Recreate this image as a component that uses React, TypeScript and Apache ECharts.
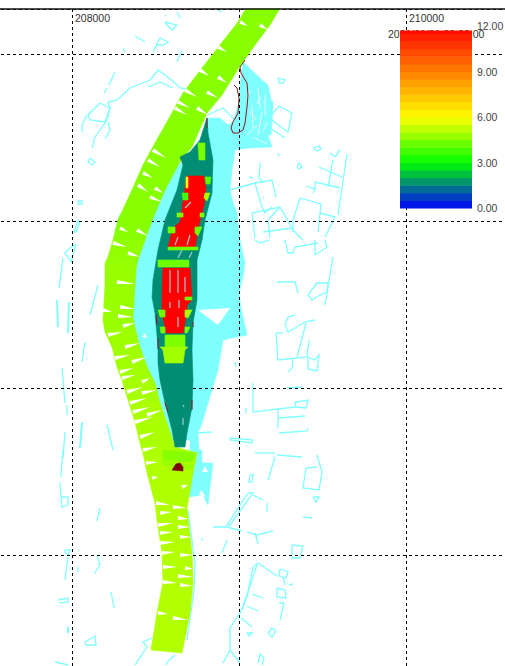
import React, { useEffect, useRef } from "react";
import * as echarts from "echarts";

// Map grid: 167 grid cells per 1000 m. Axis coordinates are in grid cells from the SW corner.
const gridStep = 167;
const eastingLabels: Record<number, string> = { 167: "208000", 501: "210000" };
const timeStamp = "2001/01/01 00:00:00";

// Depth colour scale stops [value, r, g, b]
const colorStops = [
  [0, 0, 0, 255],
  [1.5, 0, 128, 128],
  [3, 0, 255, 0],
  [6, 255, 255, 0],
  [12, 255, 0, 0],
];
const legendBands = [0, 0.5, 1, 1.5, 2, 2.5, 3, 3.5, 4, 4.5, 5, 5.5, 6, 6.5, 7, 7.5, 8, 8.5, 9, 9.5, 10, 10.5, 11, 11.5];
const legendTop = 11.7;

// River mesh cross sections: left x,y then right x,y
const riverSections = [
  [343, 717, 377, 717], [333, 700, 365, 697], [315, 677, 350, 677], [297, 654, 335, 656],
  [278, 629, 317, 627], [263, 602, 302, 609], [250, 579, 287, 575], [238, 557, 276, 562],
  [227, 532, 260, 532], [213, 502, 248, 504], [208, 482, 240, 482], [203, 465, 232, 459],
  [200, 459, 231, 452], [200, 437, 230, 437], [198, 402, 228, 405], [200, 390, 230, 394],
  [207, 375, 235, 375], [212, 355, 242, 355], [217, 342, 250, 339], [223, 322, 255, 319],
  [230, 300, 262, 299], [236, 275, 270, 275], [238, 269, 292, 269], [242, 249, 288, 249],
  [250, 219, 282, 214], [253, 195, 284, 195], [257, 169, 287, 169], [258, 140, 288, 139],
  [252, 109, 285, 109], [246, 72, 277, 69],
];
const riverValues = [
  4.6, 4.6, 4.6, 4.6, 4.6, 4.6, 4.6, 4.6, 4.6, 4.6, 4.7, 4.75, 4.8, 4.8, 4.8, 4.85, 4.9, 4.9, 4.95, 5.0, 5.0, 5.0,
  5.05, 5.05, 5.1, 5.1, 5.1, 5.1, 5.1,
];
// Gaps between mesh cells: start x,y then tip x,y
const riverGaps = [
  [335, 700, 343, 696], [355, 697, 363, 692], [313, 675, 322, 670], [295, 652, 304, 646], [313, 645, 322, 639],
  [280, 632, 292, 625], [302, 630, 313, 624], [273, 620, 285, 614], [270, 614, 282, 607], [292, 614, 303, 607],
  [248, 572, 261, 564], [243, 562, 255, 555], [238, 549, 248, 544], [233, 537, 243, 530], [250, 534, 258, 529],
  [245, 525, 257, 520], [215, 494, 223, 490], [232, 492, 243, 486], [208, 479, 222, 475], [223, 469, 235, 465],
  [212, 440, 230, 438], [215, 415, 230, 413], [198, 412, 207, 410], [213, 406, 228, 405], [218, 396, 230, 399],
  [203, 387, 218, 390], [220, 375, 235, 379], [210, 364, 225, 367], [227, 360, 242, 365], [215, 350, 228, 354],
  [217, 344, 230, 347], [237, 340, 245, 344], [222, 330, 238, 335], [237, 329, 252, 332], [225, 319, 242, 324],
  [228, 310, 245, 315], [242, 307, 257, 312], [230, 300, 248, 305], [235, 285, 250, 290], [238, 272, 252, 275],
  [241, 259, 253, 260], [247, 244, 253, 245], [277, 235, 283, 237], [251, 219, 265, 217], [255, 209, 267, 210],
  [268, 215, 282, 214], [253, 197, 268, 199], [273, 204, 284, 203], [255, 189, 268, 190], [273, 195, 285, 195],
  [255, 179, 270, 180], [275, 185, 286, 185], [257, 169, 270, 170], [275, 167, 288, 167], [258, 155, 272, 155],
  [280, 154, 288, 153], [273, 146, 288, 145], [258, 140, 272, 139], [275, 137, 288, 136], [253, 109, 263, 108],
  [268, 104, 283, 102],
];

// Island (shallow) outline and its deep cells
const islandValue = 1.65;
const islandOutline = [
  302, 604, 303, 589, 308, 562, 307, 529, 300, 502, 297, 482, 292, 462, 292, 422, 288, 399, 287, 372, 288, 342,
  287, 315, 282, 289, 280, 275, 270, 275, 267, 292, 260, 319, 255, 342, 253, 359, 253, 375, 250, 409, 247, 425,
  248, 442, 253, 472, 260, 502, 272, 532, 278, 557, 275, 565, 285, 570, 295, 582,
];
const redBlocks = [
  [282, 546, 299, 546, 301, 532, 299, 517, 294, 497, 290, 475, 263, 475, 268, 494, 275, 500, 279, 527],
  [258, 454, 285, 454, 287, 422, 282, 417, 282, 410, 278, 389, 261, 389, 257, 410, 257, 422],
];
const patchValues = [4.4, 4, 3.8, 5, 4.5, 4.5, 4.3, 4.3, 4.3, 4.3, 4.3, 5, 4.3, 4.5, 4.9, 4.9, 4.5, 4.3, 6, 4.6, 4.8];
const patchCells = [
  [293, 579, 300, 579, 300, 562, 294, 562], [300, 545, 306, 545, 305, 538, 301, 538],
  [277, 529, 283, 529, 283, 522, 278, 522], [300, 529, 305, 529, 302, 521, 299, 524],
  [272, 509, 278, 509, 278, 505, 272, 505], [295, 509, 299, 509, 299, 505, 295, 505],
  [263, 495, 270, 495, 270, 489, 263, 489], [290, 495, 297, 495, 293, 486, 290, 489],
  [263, 475, 293, 475, 293, 472, 263, 472], [253, 462, 284, 462, 284, 455, 253, 455],
  [253, 412, 260, 412, 260, 405, 255, 405], [280, 412, 287, 412, 283, 404, 280, 405],
  [280, 425, 287, 425, 287, 422, 280, 422], [260, 387, 280, 387, 280, 375, 260, 375],
  [255, 375, 283, 375, 280, 372, 258, 372], [258, 372, 280, 372, 278, 359, 260, 359],
  [280, 395, 285, 395, 282, 389, 280, 389], [255, 395, 260, 395, 260, 389, 256, 389],
  [281, 545, 283, 545, 283, 534, 281, 534], [258, 272, 290, 269, 288, 260, 258, 262],
  [257, 262, 288, 257, 287, 252, 258, 257],
];
const meshGaps = [
  [286, 520, 280, 514], [273, 485, 270, 477], [285, 487, 282, 477], [277, 472, 273, 464], [287, 470, 284, 464],
  [265, 452, 265, 429], [273, 452, 273, 429], [280, 445, 280, 430], [265, 420, 265, 414], [274, 422, 274, 414],
  [273, 405, 273, 395], [278, 304, 278, 297], [278, 317, 279, 315],
];
const darkCurve = [340, 662, 335, 655, 336, 649, 342, 639, 343, 627, 342, 615, 340, 599, 338, 592, 333, 589, 328, 589, 326, 594, 328, 600, 333, 609, 334, 624, 332, 634, 329, 637];
const darkMarks = [[253, 384, 253, 373], [302, 604, 302, 594], [288, 400, 288, 395], [251, 407, 252, 397], [260, 319, 263, 310], [287, 322, 287, 312]];
const darkDome = [267, 252, 271, 258, 275, 259, 278, 255, 278, 251];

// Floodplain areas
const floodAreas = [
  [338, 660, 335, 637, 334, 619, 328, 600, 323, 597, 315, 604, 302, 604, 295, 582, 270, 552, 245, 512, 230, 472,
    220, 437, 220, 402, 230, 372, 243, 342, 255, 312, 265, 282, 285, 282, 293, 289, 297, 299, 313, 352, 318, 382,
    342, 387, 336, 414, 334, 429, 338, 445, 340, 459, 335, 482, 333, 499, 332, 509, 328, 519, 325, 532, 327, 552,
    330, 572, 343, 574, 367, 575, 363, 587, 366, 587, 367, 602, 368, 620, 366, 622, 363, 637, 357, 642],
  [293, 272, 297, 272, 297, 259, 308, 259, 305, 235, 303, 217, 298, 227, 283, 225, 288, 259, 293, 259],
  [285, 289, 293, 289, 295, 259, 285, 259],
];
const floodHoles = [
  [293, 412, 325, 414, 313, 397], [237, 385, 242, 384, 240, 389], [300, 256, 303, 250, 297, 250], [296, 232, 301, 225, 294, 227],
];
const floodHoleLines = [
  [353, 634, 355, 614], [357, 610, 353, 587], [347, 617, 348, 594], [342, 587, 353, 597], [360, 627, 360, 607], [345, 632, 342, 622],
  [345, 610, 351, 602], [362, 600, 358, 590], [348, 585, 362, 578], [356, 625, 352, 618],
];

// Thin bank and building outlines
const shoreWest = [
  [210, 650, 204, 637], [202, 634, 199, 629], [288, 632, 275, 634, 270, 639, 260, 647, 253, 652, 245, 642, 225, 634, 212, 622, 203, 620],
  [243, 635, 255, 640, 268, 634], [203, 620, 205, 614, 202, 602, 190, 585, 187, 574],
  [195, 619, 183, 607, 185, 602, 200, 600, 205, 614, 195, 619], [182, 607, 177, 597, 177, 590], [203, 600, 205, 592, 200, 583],
  [185, 564, 190, 560, 187, 557, 183, 560, 185, 564], [173, 521, 177, 521, 177, 518, 173, 518, 173, 521],
  [173, 502, 169, 490, 171, 490, 175, 500, 173, 502], [230, 686, 240, 680], [218, 674, 220, 670],
  [260, 700, 272, 697, 267, 692, 262, 697, 260, 700], [260, 707, 261, 706], [272, 710, 275, 704], [313, 712, 317, 710],
  [248, 670, 255, 684, 263, 680, 258, 677, 252, 677, 248, 670], [277, 672, 272, 660], [303, 607, 318, 614, 332, 600],
  [283, 212, 290, 159, 289, 132, 282, 82], [215, 507, 210, 490], [293, 289, 307, 290],
  [171, 478, 166, 460, 160, 469, 165, 474, 171, 478], [158, 464, 154, 434], [193, 437, 185, 407], [180, 380, 177, 360],
  [157, 354, 160, 319], [162, 317, 162, 307], [202, 297, 208, 272], [160, 290, 158, 264], [158, 272, 156, 245],
  [155, 239, 157, 214], [157, 225, 163, 225, 163, 217, 157, 215], [195, 214, 192, 201], [160, 172, 165, 172, 163, 167, 160, 169, 160, 172],
  [173, 172, 174, 171], [163, 165, 160, 142], [173, 155, 173, 150], [192, 167, 195, 157, 189, 148], [206, 130, 209, 114],
  [153, 122, 163, 124, 163, 120, 154, 119], [180, 80, 190, 86, 191, 77, 181, 77, 180, 80], [150, 60, 163, 57],
  [247, 84, 238, 80, 242, 75, 230, 57], [270, 67, 262, 60, 261, 57],
];
const shoreWestThick = [[152, 422, 153, 395], [164, 420, 163, 389], [177, 300, 175, 274], [163, 95, 163, 89]];
const shoreEast = [
  [373, 644, 380, 642, 378, 639, 374, 639, 373, 644], [365, 605, 374, 616, 387, 609, 383, 590, 368, 601, 365, 605],
  [365, 594, 380, 584], [373, 569, 374, 566], [355, 559, 354, 544, 358, 540], [392, 555, 394, 559, 397, 555, 394, 553, 392, 555],
  [408, 574, 414, 576, 416, 573, 412, 571, 408, 574], [344, 545, 348, 544], [325, 532, 350, 539, 357, 540, 367, 542, 371, 525],
  [350, 539, 357, 515, 360, 509, 367, 515], [358, 525, 359, 524], [347, 509, 350, 484], [347, 509, 375, 515, 388, 492, 398, 482],
  [375, 515, 363, 502, 365, 484], [395, 524, 416, 518, 413, 490], [395, 524, 388, 502, 388, 490], [415, 509, 430, 505, 420, 485],
  [358, 490, 387, 494], [414, 555, 437, 545], [428, 562, 423, 535], [430, 565, 435, 572], [425, 569, 430, 565], [442, 568, 433, 507],
  [401, 536, 410, 533, 410, 540, 423, 537, 435, 534], [410, 533, 408, 529], [350, 482, 355, 479, 365, 482],
  [380, 482, 383, 469, 388, 469, 390, 475, 413, 479], [410, 467, 422, 475, 420, 482], [410, 482, 410, 467],
  [372, 440, 390, 440, 393, 429], [428, 465, 420, 417], [403, 427, 412, 439, 423, 439, 422, 430, 415, 427, 407, 422, 403, 427],
  [390, 407, 383, 405, 380, 397, 383, 390, 400, 400, 410, 402], [371, 389, 378, 389], [371, 389, 373, 362, 402, 365, 404, 382],
  [401, 399, 392, 365], [388, 364, 387, 354, 383, 350], [402, 365, 410, 362, 414, 367, 412, 351, 403, 353, 403, 364],
  [348, 339, 348, 310, 373, 313, 391, 315, 390, 320, 403, 322, 401, 314, 391, 315], [373, 313, 373, 294], [373, 304, 400, 306],
  [374, 289, 402, 291, 403, 294], [382, 334, 397, 335], [341, 314, 341, 309], [325, 284, 348, 282, 347, 279, 325, 282, 325, 284],
  [330, 360, 331, 355], [350, 269, 370, 269], [370, 265, 363, 242], [372, 267, 397, 265], [345, 247, 348, 247, 347, 240, 344, 240, 345, 247],
  [412, 267, 417, 250, 414, 232, 398, 234, 401, 254, 412, 255], [408, 225, 414, 225, 411, 220, 408, 225], [398, 205, 407, 204],
  [343, 229, 348, 229, 325, 197, 322, 197, 343, 229], [348, 227, 358, 222], [362, 219, 362, 210], [308, 195, 322, 195, 337, 191],
  [342, 190, 352, 187, 368, 191], [350, 189, 353, 178], [296, 184, 298, 181], [322, 182, 317, 169], [387, 177, 398, 176, 395, 164, 387, 164, 387, 177],
  [353, 159, 348, 155, 342, 125, 335, 109, 325, 94, 325, 72, 318, 59], [353, 159, 372, 146], [352, 157, 337, 112], [347, 128, 358, 124],
  [342, 116, 353, 111], [336, 104, 347, 95], [375, 153, 383, 150, 381, 144, 374, 146, 375, 153], [378, 144, 380, 137], [384, 137, 388, 138],
  [372, 134, 380, 132, 381, 124, 372, 125, 372, 134], [374, 119, 379, 119, 375, 102], [342, 89, 347, 89, 344, 86, 342, 89],
  [363, 89, 367, 94, 371, 91, 367, 85, 363, 89], [325, 72, 335, 59], [353, 59, 355, 68, 359, 64, 357, 57],
];

const CYAN = "#80ffff";
const FONT = "Liberation Sans";

function valueColor(v: number): string {
  for (let i = 1; i < colorStops.length; i++) {
    const a = colorStops[i - 1];
    const b = colorStops[i];
    if (v <= b[0]) {
      const t = (v - a[0]) / (b[0] - a[0]);
      const c = [1, 2, 3].map((k) => Math.round(a[k] + (b[k] - a[k]) * t));
      return `rgb(${c[0]},${c[1]},${c[2]})`;
    }
  }
  return "rgb(255,0,0)";
}

function toPoints(flat: number[], api: any): number[][] {
  const out: number[][] = [];
  for (let i = 0; i + 1 < flat.length; i += 2) out.push(api.coord([flat[i], flat[i + 1]]));
  return out;
}

function areaSeries(polys: number[][], fill: (i: number) => string, z: number, seam = 0.6) {
  return {
    type: "custom",
    coordinateSystem: "cartesian2d",
    silent: true,
    z,
    data: polys.map((_, i) => i),
    renderItem: (params: any, api: any) => ({
      type: "polygon",
      shape: { points: toPoints(polys[params.dataIndex], api) },
      style: { fill: fill(params.dataIndex), stroke: fill(params.dataIndex), lineWidth: seam },
    }),
  };
}

function lineSeries(lines: number[][], color: string, width: number, z: number) {
  return {
    type: "custom",
    coordinateSystem: "cartesian2d",
    silent: true,
    z,
    data: lines.map((_, i) => i),
    renderItem: (params: any, api: any) => ({
      type: "polyline",
      shape: { points: toPoints(lines[params.dataIndex], api) },
      style: { stroke: color, fill: null, lineWidth: width },
    }),
  };
}

function gapSeries(gaps: number[][], z: number) {
  return {
    type: "custom",
    coordinateSystem: "cartesian2d",
    silent: true,
    z,
    data: gaps.map((_, i) => i),
    renderItem: (params: any, api: any) => {
      const [a, b] = toPoints(gaps[params.dataIndex], api);
      const dx = b[0] - a[0];
      const dy = b[1] - a[1];
      const len = Math.hypot(dx, dy) || 1;
      const nx = (-dy / len) * 2;
      const ny = (dx / len) * 2;
      return {
        type: "polygon",
        shape: { points: [[a[0] + nx, a[1] + ny], b, [a[0] - nx, a[1] - ny]] },
        style: { fill: "#ffffff" },
      };
    },
  };
}

const riverCells = riverSections.slice(0, -1).map((s, i) => {
  const n = riverSections[i + 1];
  return [s[0], s[1], n[0], n[1], n[2], n[3], s[2], s[3]];
});

function buildOption() {
  return {
    animation: false,
    backgroundColor: "#ffffff",
    grid: [
      { left: -95, top: 9, width: 668, height: 713, outerBoundsMode: "none" },
      { left: 400, top: 26, width: 72, height: 182, outerBoundsMode: "none" },
    ],
    xAxis: [
      {
        type: "value",
        position: "top",
        min: 0,
        max: 668,
        interval: gridStep,
        axisLine: { show: false },
        axisTick: { show: false },
        axisLabel: {
          inside: true,
          margin: 3,
          align: "left",
          padding: [0, 0, 0, 3],
          color: "#333333",
          fontSize: 10.5,
          fontFamily: FONT,
          formatter: (v: number) => eastingLabels[v] ?? "",
        },
        splitLine: { show: true, lineStyle: { color: "#000000", width: 1, type: [3, 3] } },
      },
      { type: "value", gridIndex: 1, min: 0, max: 1, show: false },
    ],
    yAxis: [
      {
        type: "value",
        min: 0,
        max: 713,
        interval: gridStep,
        axisLine: { show: false },
        axisTick: { show: false },
        axisLabel: { show: false },
        splitLine: { show: true, lineStyle: { color: "#000000", width: 1, type: [3, 3] } },
      },
      {
        type: "value",
        gridIndex: 1,
        position: "right",
        min: 0,
        max: 12,
        interval: 3,
        axisLine: { show: false },
        axisTick: { show: false },
        splitLine: { show: false },
        axisLabel: {
          margin: 5,
          color: "#444444",
          fontSize: 10.5,
          fontFamily: FONT,
          formatter: (v: number) => v.toFixed(2),
        },
      },
    ],
    graphic: [
      {
        type: "text",
        x: 388,
        y: 28,
        z: 1,
        style: { text: timeStamp, fill: "#333333", fontSize: 10.5, fontFamily: FONT },
      },
      { type: "rect", z: 100, shape: { x: 0, y: 0, width: 505, height: 8.5 }, style: { fill: "#ffffff" } },
      { type: "line", z: 101, shape: { x1: 0, y1: 9, x2: 505, y2: 9 }, style: { stroke: "#111111", lineWidth: 1.5 } },
    ],
    series: [
      areaSeries(floodAreas, () => CYAN, -3),
      areaSeries(floodHoles, () => "#ffffff", -2, 0),
      lineSeries(floodHoleLines, "#ffffff", 0.8, -2),
      lineSeries(shoreWest, CYAN, 1.3, -2),
      lineSeries(shoreWestThick, CYAN, 2, -2),
      lineSeries(shoreEast, CYAN, 1.3, -2),
      areaSeries(riverCells, (i) => valueColor(riverValues[i]), 2),
      gapSeries(riverGaps, 3),
      areaSeries([islandOutline], () => valueColor(islandValue), 4),
      areaSeries(redBlocks, () => valueColor(12), 5),
      areaSeries(patchCells, (i) => valueColor(patchValues[i]), 6),
      lineSeries(meshGaps, "#9fc8cc", 1.2, 7),
      lineSeries([darkCurve], "#8a1a1a", 1, 7),
      lineSeries(darkMarks, "#8a1a2a", 1, 7),
      areaSeries([darkDome], () => "#7a0808", 7),
      {
        type: "custom",
        coordinateSystem: "cartesian2d",
        xAxisIndex: 1,
        yAxisIndex: 1,
        silent: true,
        z: 8,
        data: legendBands.map((_, i) => i),
        renderItem: (params: any, api: any) => {
          const v = legendBands[params.dataIndex];
          const lo = api.coord([0, v]);
          const hi = api.coord([1, Math.min(v + 0.5, legendTop)]);
          return {
            type: "rect",
            shape: { x: lo[0], y: hi[1], width: hi[0] - lo[0], height: lo[1] - hi[1] + 0.5 },
            style: { fill: valueColor(v + 0.25) },
          };
        },
      },
    ],
  };
}

export default function App() {
  const ref = useRef<HTMLDivElement>(null);
  useEffect(() => {
    document.body.style.margin = "0";
    const chart = echarts.init(ref.current as HTMLDivElement, undefined, { renderer: "svg" });
    chart.setOption(buildOption() as any);
    return () => chart.dispose();
  }, []);
  return <div ref={ref} style={{ width: 505, height: 666 }} />;
}
